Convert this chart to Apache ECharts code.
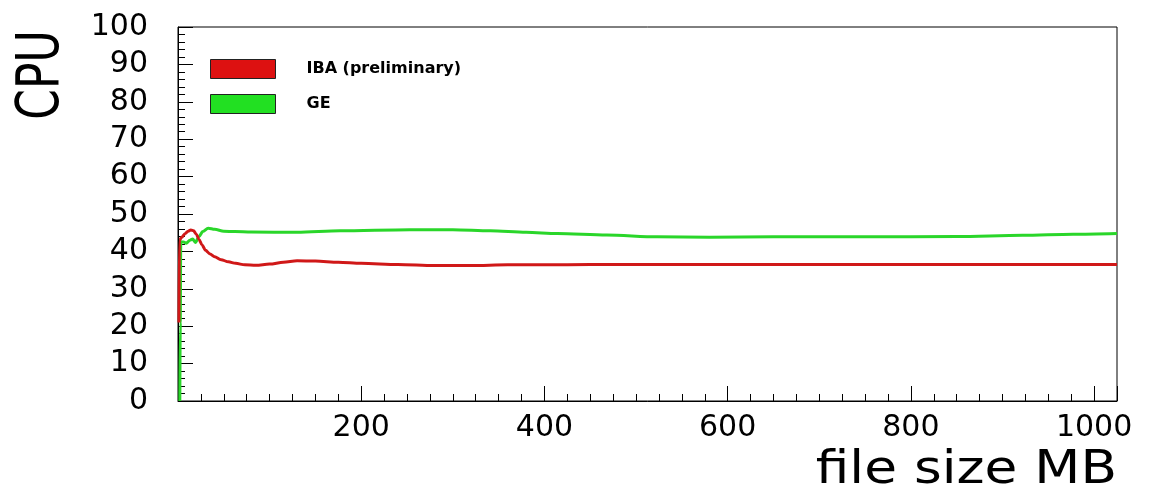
<!DOCTYPE html>
<html>
<head>
<meta charset="utf-8">
<script src="https://cdn.jsdelivr.net/npm/echarts@6/dist/echarts.min.js"></script>
<style>
  html, body { margin: 0; padding: 0; background: #fff; }
  #chart { width: 1149px; height: 487px; }
</style>
</head>
<body>
<div id="chart"></div>
<script>
// 数据
var seriesNames = ['IBA (preliminary)', 'GE'];

var sizeIba = [1, 1.5, 4, 8, 11, 14, 17, 20, 23, 26, 30, 35, 40, 47, 55, 63, 73, 85, 100, 115, 130, 150, 175, 200, 240, 280, 320, 360, 400, 450, 500, 600, 700, 800, 900, 1025];
var cpuIba = [21, 43, 43.8, 44.8, 45.4, 45.7, 45.5, 44.6, 43.2, 41.8, 40.3, 39.3, 38.6, 37.8, 37.2, 36.8, 36.4, 36.3, 36.6, 37.1, 37.5, 37.4, 37.1, 36.8, 36.5, 36.2, 36.2, 36.4, 36.4, 36.5, 36.5, 36.5, 36.5, 36.5, 36.5, 36.5];

var sizeGe = [2, 2.5, 3, 6, 9, 13, 16, 19, 23, 27, 33, 40, 50, 62, 80, 130, 177, 253, 300, 341, 380, 414, 468, 523, 580, 650, 750, 850, 922, 977, 1025];
var cpuGe = [0, 21, 42.6, 42.5, 42.2, 43.0, 43.3, 42.4, 44.0, 45.3, 46.2, 45.9, 45.4, 45.3, 45.2, 45.1, 45.5, 45.8, 45.8, 45.5, 45.1, 44.8, 44.4, 43.9, 43.8, 43.9, 43.9, 44.0, 44.3, 44.6, 44.8];

function pairs(xs, ys) {
     var out = [];
     for (var i = 0; i < xs.length; i++) {
          out.push([xs[i], ys[i]]);
     }
     return out;
}

var chart = echarts.init(document.getElementById('chart'));

var option = {
     animation: false,
     backgroundColor: '#fff',
     grid: {
          left: 178,
          right: 32,
          top: 27,
          bottom: 86,
          outerBoundsMode: 'none',
          containLabel: false,
          show: true,
          borderColor: '#000',
          borderWidth: 1
     },
     legend: {
          orient: 'vertical',
          left: 205,
          top: 54,
          itemWidth: 65,
          itemHeight: 19,
          itemGap: 15,
          icon: 'rect',
          itemStyle: {
               borderColor: '#222',
               borderWidth: 1
          },
          textStyle: {
               fontFamily: 'DejaVu Sans',
               fontWeight: 'bold',
               fontSize: 16,
               color: '#000',
               padding: [0, 0, 0, 26]
          },
          data: seriesNames
     },
     xAxis: {
          type: 'value',
          min: 0,
          max: 1025,
          interval: 200,
          axisLine: { show: true, lineStyle: { color: '#000', width: 1 } },
          axisTick: { show: true, inside: true, length: 15, lineStyle: { color: '#000' } },
          minorTick: { show: true, splitNumber: 8, length: 7, lineStyle: { color: '#000' } },
          splitLine: { show: false },
          axisLabel: {
               showMinLabel: false,
               showMaxLabel: false,
               margin: 12,
               fontFamily: 'DejaVu Sans',
               fontSize: 30,
               color: '#000',
               formatter: function (v) { return String(v); }
          }
     },
     yAxis: {
          type: 'value',
          min: 0,
          max: 100,
          interval: 10,
          axisLine: { show: true, lineStyle: { color: '#000', width: 1 } },
          axisTick: { show: true, inside: true, length: 15, lineStyle: { color: '#000' } },
          minorTick: { show: true, splitNumber: 5, length: 7, lineStyle: { color: '#000' } },
          splitLine: { show: false },
          axisLabel: {
               margin: 30,
               fontFamily: 'DejaVu Sans',
               fontSize: 30,
               color: '#000'
          }
     },
     graphic: [{
          type: 'text',
          x: 43,
          y: 75,
          rotation: Math.PI / 2,
          scaleY: 1.35,
          style: {
               text: 'CPU',
               fontFamily: 'DejaVu Sans',
               fontSize: 44,
               fill: '#000',
               textAlign: 'center',
               textVerticalAlign: 'middle'
          }
     }, {
          type: 'text',
          x: 1117,
          y: 471,
          scaleX: 1.16,
          style: {
               text: 'file size MB',
               fontFamily: 'DejaVu Sans',
               fontSize: 46,
               fill: '#000',
               textAlign: 'right',
               textVerticalAlign: 'middle'
          }
     }],
     series: [{
          name: seriesNames[0],
          type: 'line',
          z: 3,
          showSymbol: false,
          smooth: 0.3,
          smoothMonotone: 'x',
          color: '#dd1111',
          lineStyle: { width: 3, color: '#d01818' },
          data: pairs(sizeIba, cpuIba)
     }, {
          name: seriesNames[1],
          type: 'line',
          z: 2,
          showSymbol: false,
          smooth: 0.3,
          smoothMonotone: 'x',
          color: '#22e022',
          lineStyle: { width: 3, color: '#2ad62a' },
          data: pairs(sizeGe, cpuGe)
     }]
};

chart.setOption(option);
</script>
</body>
</html>
